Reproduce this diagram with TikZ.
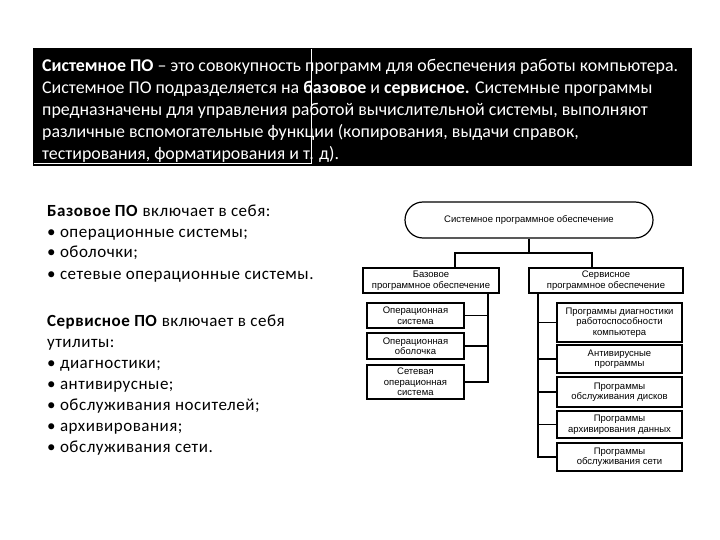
\documentclass[tikz,border=0pt]{standalone}
\usepackage{fontspec}
\setmainfont{Carlito}
\newfontfamily\arialf{Liberation Sans}
\newfontfamily\leftf[LetterSpace=3]{Carlito}
\begin{document}
\begin{tikzpicture}[x=1pt,y=-1pt,
  ttl/.style={anchor=base west,inner sep=0pt,text=white,font=\fontsize{17.9}{22}\selectfont},
  lft/.style={anchor=base west,inner sep=0pt,text=black,font=\leftf\fontsize{17}{21}\selectfont},
  dbox/.style={draw,line width=1.2pt,align=center,inner sep=0pt,font=\arialf\fontsize{9.5}{10.5}\selectfont},
  conn/.style={line width=1.4pt}]
\useasboundingbox (0,0) rectangle (720,540);
\fill[white] (0,0) rectangle (720,540);
% black title box
\fill[black] (33,48) rectangle (692,166);
\node[ttl] (t1) at (42,72) {\textbf{Системное ПО} – это совокупность программ для обеспечения работы компьютера.};
\node[ttl] (t2) at (42,94) {Системное ПО подразделяется на \textbf{базовое} и \textbf{сервисное.} Системные программы};
\node[ttl] (t3) at (42,116) {предназначены для управления работой вычислительной системы, выполняют};
\node[ttl] (t4) at (42,138) {различные вспомогательные функции (копирования, выдачи справок,};
\node[ttl] (t5) at (42,160) {тестирования, форматирования и т. д).};
\draw[white,line width=0.8pt] (311,49) -- (311,163) -- (34,163);
% left text
\node[lft] (l1) at (47,216) {\textbf{Базовое ПО} включает в себя:};
\node[lft] (l2) at (47,237) {• операционные системы;};
\node[lft] (l3) at (47,258) {• оболочки;};
\node[lft] (l4) at (47,279) {• сетевые операционные системы.};
\node[lft] (l5) at (47,326) {\textbf{Сервисное ПО} включает в себя};
\node[lft] (l6) at (47,347) {утилиты:};
\node[lft] (l7) at (47,368) {• диагностики;};
\node[lft] (l8) at (47,389) {• антивирусные;};
\node[lft] (l9) at (47,410) {• обслуживания носителей;};
\node[lft] (l10) at (47,431) {• архивирования;};
\node[lft] (l11) at (47,452) {• обслуживания сети.};
% diagram
\node[dbox,rounded corners=18pt,minimum width=248pt,minimum height=36pt] (top) at (529,220) {Системное программное обеспечение};
\node[dbox,minimum width=136pt,minimum height=25pt] (base) at (431,280.5) {Базовое\\программное обеспечение};
\node[dbox,minimum width=154pt,minimum height=25pt] (serv) at (606,280.5) {Сервисное\\программное обеспечение};
\node[dbox,minimum width=97pt,minimum height=25pt] (b1) at (415.5,315.5) {Операционная\\система};
\node[dbox,minimum width=97pt,minimum height=26pt] (b2) at (415.5,346) {Операционная\\оболочка};
\node[dbox,minimum width=97pt,minimum height=34pt] (b3) at (415.5,382) {Сетевая\\операционная\\система};
\node[dbox,minimum width=125pt,minimum height=39pt] (s1) at (619.5,322.5) {Программы диагностики\\работоспособности\\компьютера};
\node[dbox,minimum width=125pt,minimum height=28pt] (s2) at (619.5,359) {Антивирусные\\программы};
\node[dbox,minimum width=125pt,minimum height=30pt] (s3) at (619.5,392) {Программы\\обслуживания дисков};
\node[dbox,minimum width=125pt,minimum height=27pt] (s4) at (619.5,424.5) {Программы\\архивирования данных};
\node[dbox,minimum width=125pt,minimum height=28pt] (s5) at (619.5,457) {Программы\\обслуживания сети};
\coordinate (jl) at (455,253);
\coordinate (jr) at (592,253);
\coordinate (lv) at (488,300);
\coordinate (rv) at (538,300);
\draw[conn] (top.south) -- (top.south |- jl);
\draw[conn] (base.north -| jl) -- (jl) -- (jr) -- (serv.north -| jr);
\draw[conn] (base.south -| lv) |- (b3.east);
\draw[conn] (b1.east) -- (b1.east -| lv);
\draw[conn] (b2.east) -- (b2.east -| lv);
\draw[conn] (serv.south -| rv) |- (s5.west);
\draw[conn] (s1.west) -- (s1.west -| rv);
\draw[conn] (s2.west) -- (s2.west -| rv);
\draw[conn] (s3.west) -- (s3.west -| rv);
\draw[conn] (s4.west) -- (s4.west -| rv);
\end{tikzpicture}
\end{document}
